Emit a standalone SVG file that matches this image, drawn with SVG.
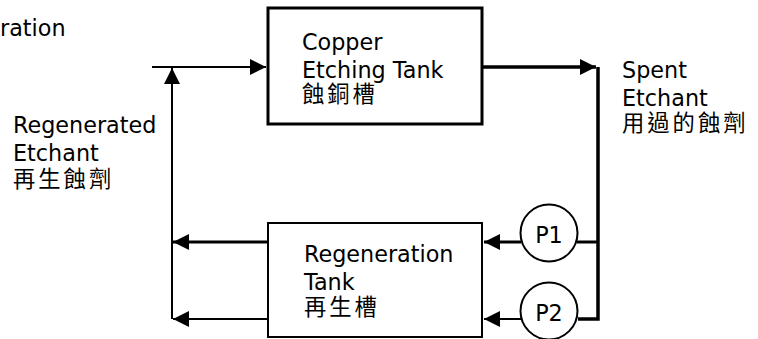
<svg xmlns="http://www.w3.org/2000/svg" width="758" height="339" viewBox="0 0 758 339">
<style>
text{font-family:"DejaVu Sans","Noto Sans CJK TC",sans-serif;font-size:22.3px;fill:#000}
.cjk{letter-spacing:3px}
.box{fill:#fff;stroke:#000}
.ln{fill:none;stroke:#000}
</style>
<defs>
<marker id="ah" viewBox="0 0 10 10" refX="10" refY="5" markerWidth="16" markerHeight="16" markerUnits="userSpaceOnUse" orient="auto">
<path d="M0,0 L10,5 L0,10 z" fill="#000"/>
</marker>
</defs>
<rect width="758" height="339" fill="#fff"/>
<g id="connectors">
<line class="ln" x1="152" y1="67" x2="266" y2="67" stroke-width="2" marker-end="url(#ah)"/>
<line class="ln" x1="172" y1="319" x2="172" y2="68" stroke-width="2" marker-end="url(#ah)"/>
<line class="ln" x1="482" y1="67" x2="596" y2="67" stroke-width="3.5" marker-end="url(#ah)"/>
<polyline class="ln" points="598,67 598,319 578,319" stroke-width="3.5"/>
<line class="ln" x1="598" y1="242" x2="577" y2="242" stroke-width="3"/>
<line class="ln" x1="521" y1="242" x2="484" y2="242" stroke-width="3" marker-end="url(#ah)"/>
<line class="ln" x1="521" y1="319" x2="484" y2="319" stroke-width="2" marker-end="url(#ah)"/>
<line class="ln" x1="268" y1="242" x2="173" y2="242" stroke-width="3" marker-end="url(#ah)"/>
<line class="ln" x1="268" y1="319" x2="173" y2="319" stroke-width="2" marker-end="url(#ah)"/>
</g>
<g id="copper-tank">
<rect class="box" x="268" y="8" width="214" height="116" stroke-width="3"/>
<text x="302" y="50">Copper</text>
<text x="302" y="78">Etching Tank</text>
<text class="cjk" x="302" y="102">蝕銅槽</text>
</g>
<g id="regen-tank">
<rect class="box" x="268" y="223" width="214" height="114" stroke-width="2"/>
<text x="304" y="262">Regeneration</text>
<text x="304" y="290">Tank</text>
<text class="cjk" x="304" y="315">再生槽</text>
</g>
<g id="p1">
<circle class="box" cx="549" cy="233" r="28.5" stroke-width="2"/>
<text x="549" y="243" text-anchor="middle">P1</text>
</g>
<g id="p2">
<circle class="box" cx="549" cy="311" r="28.5" stroke-width="2"/>
<text x="549" y="321" text-anchor="middle">P2</text>
</g>
<g id="label-regen">
<text x="0" y="36">ration</text>
</g>
<g id="label-regenerated">
<text x="13" y="133">Regenerated</text>
<text x="13" y="161">Etchant</text>
<text class="cjk" x="13" y="187">再生蝕劑</text>
</g>
<g id="label-spent">
<text x="622" y="78">Spent</text>
<text x="622" y="106">Etchant</text>
<text class="cjk" x="622" y="131">用過的蝕劑</text>
</g>
</svg>
